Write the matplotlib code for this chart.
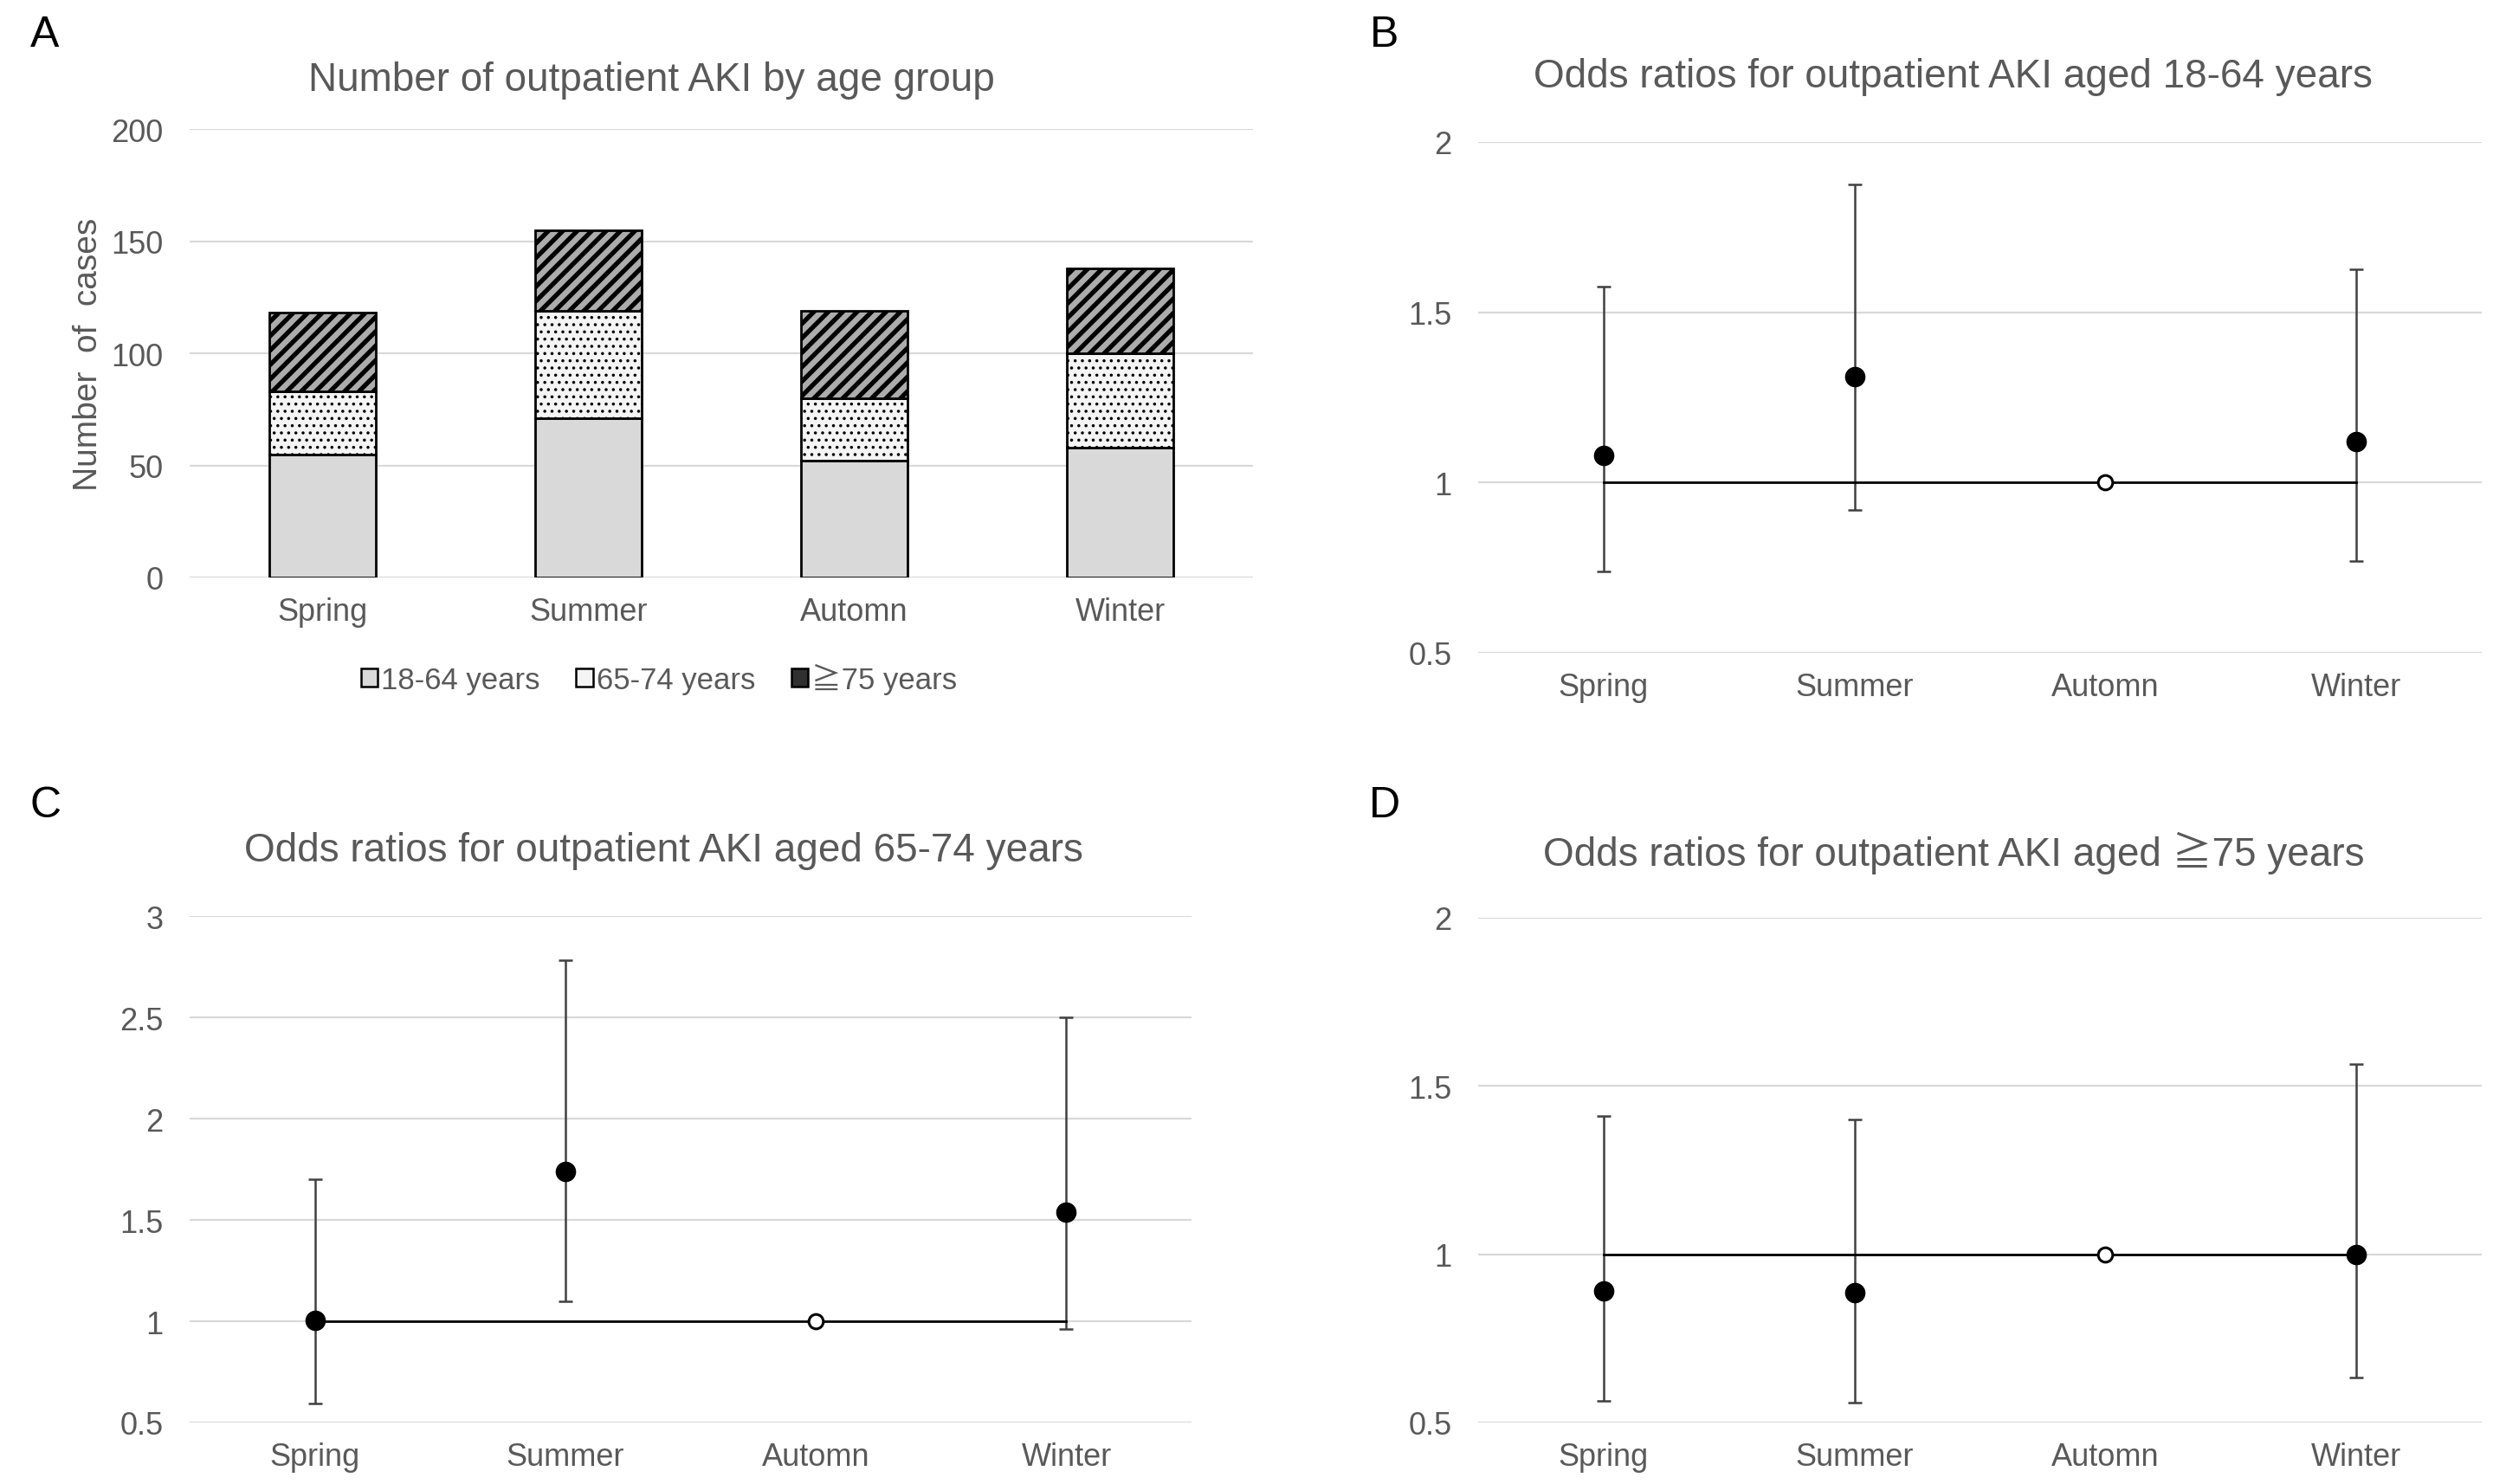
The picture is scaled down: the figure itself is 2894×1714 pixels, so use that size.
import numpy as np
import matplotlib
matplotlib.use('Agg')
import matplotlib.pyplot as plt
from matplotlib.patches import Patch

plt.rcParams['font.family'] = ['Liberation Sans', 'Noto Sans CJK JP', 'DejaVu Sans']

# data
seasons = ['Spring', 'Summer', 'Automn', 'Winter']
cases_18_64 = [55, 71, 52, 58]
cases_65_74 = [28, 48, 28, 42]
cases_75 = [35, 36, 39, 38]
age_labels = ['18-64 years', '65-74 years', '≧75 years']

# odds ratios with 95% CI (Automn = reference)
or_18_64 = [1.08, 1.31, 1.00, 1.12]
lo_18_64 = [0.74, 0.92, np.nan, 0.77]
hi_18_64 = [1.575, 1.875, np.nan, 1.625]

or_65_74 = [1.005, 1.74, 1.00, 1.54]
lo_65_74 = [0.595, 1.10, np.nan, 0.96]
hi_65_74 = [1.70, 2.78, np.nan, 2.50]

or_75 = [0.89, 0.885, 1.00, 1.00]
lo_75 = [0.565, 0.56, np.nan, 0.635]
hi_75 = [1.41, 1.40, np.nan, 1.565]

ref_line = [1.0, 1.0, 1.0, 1.0]
ref_season = 'Automn'

gray_txt = '#595959'
grid_col = '#d9d9d9'

fig = plt.figure(figsize=(28.94, 17.15), dpi=100)


def style_axes(ax, ylim, yticks):
    ax.set_xlim(-0.5, len(seasons) - 0.5)
    ax.set_ylim(*ylim)
    ax.set_yticks(yticks)
    ax.set_yticklabels(['{:g}'.format(t) for t in yticks])
    ax.set_xticks(range(len(seasons)))
    ax.set_xticklabels(seasons)
    for s in ax.spines.values():
        s.set_visible(False)
    ax.tick_params(axis='both', length=0, labelsize=26, labelcolor=gray_txt)
    ax.tick_params(axis='y', pad=22)
    ax.tick_params(axis='x', pad=16)
    ax.yaxis.grid(True, color=grid_col, lw=1.6)
    ax.set_axisbelow(True)


# ---- A: stacked bars
axA = fig.add_axes([0.0757, 0.6105, 0.4243, 0.302])
x = np.arange(len(seasons))
w = 0.4
bot2 = np.array(cases_18_64)
bot3 = bot2 + np.array(cases_65_74)
with plt.rc_context({'hatch.linewidth': 1.3}):
    axA.bar(x, cases_18_64, w, color='#d9d9d9', edgecolor='black', lw=2.0, zorder=3)
    axA.bar(x, cases_65_74, w, bottom=bot2, color='#f4f4f4', edgecolor='black',
            lw=2.0, hatch='..', zorder=3)
with plt.rc_context({'hatch.linewidth': 3.8}):
    axA.bar(x, cases_75, w, bottom=bot3, color='#acacac', edgecolor='black',
            lw=2.0, hatch='//', zorder=3)
style_axes(axA, (0, 200), [0, 50, 100, 150, 200])
axA.set_ylabel('Number  of  cases', fontsize=28, color=gray_txt, labelpad=6)

handles = [Patch(facecolor='#d9d9d9', edgecolor='black', lw=1.8),
           Patch(facecolor='#f4f4f4', edgecolor='black', lw=1.8),
           Patch(facecolor='#303030', edgecolor='black', lw=1.8)]
leg = fig.legend(handles, age_labels, loc='center', bbox_to_anchor=(0.263, 0.5423),
                 ncol=3, frameon=False, fontsize=25, handlelength=0.55, handleheight=0.55,
                 handletextpad=0.12, columnspacing=1.2)
for t in leg.get_texts():
    t.set_color(gray_txt)


# ---- B, C, D: odds ratio plots
def or_panel(rect, ors, lo, hi, ylim, yticks):
    ax = fig.add_axes(rect)
    ors = np.array(ors)
    lo = np.array(lo)
    hi = np.array(hi)
    ok = ~np.isnan(lo)
    xs = np.arange(len(seasons))
    ax.errorbar(xs[ok], ors[ok], yerr=[ors[ok] - lo[ok], hi[ok] - ors[ok]], fmt='none',
                ecolor='#404040', elinewidth=1.8, capsize=6, capthick=1.8, zorder=3)
    ax.plot(xs, ref_line, color='black', lw=2, zorder=4)
    ax.plot(xs[ok], ors[ok], 'o', color='black', ms=16, zorder=5)
    ri = seasons.index(ref_season)
    ax.plot(xs[ri], ors[ri], 'o', mfc='white', mec='black', mew=2.2, ms=12, zorder=5)
    style_axes(ax, ylim, yticks)
    return ax


or_panel([0.5898, 0.5598, 0.4005, 0.344], or_18_64, lo_18_64, hi_18_64,
         (0.5, 2), [0.5, 1, 1.5, 2])
or_panel([0.0757, 0.0414, 0.3998, 0.3411], or_65_74, lo_65_74, hi_65_74,
         (0.5, 3), [0.5, 1, 1.5, 2, 2.5, 3])
or_panel([0.5898, 0.0414, 0.4005, 0.340], or_75, lo_75, hi_75,
         (0.5, 2), [0.5, 1, 1.5, 2])

# titles and panel letters
titles = [('Number of outpatient AKI by age group', 0.260, 0.946),
          ('Odds ratios for outpatient AKI aged 18-64 years', 0.7795, 0.948),
          ('Odds ratios for outpatient AKI aged 65-74 years', 0.265, 0.4268),
          ('Odds ratios for outpatient AKI aged ≧75 years', 0.7795, 0.4257)]
for txt, tx, ty in titles:
    fig.text(tx, ty, txt, ha='center', va='center', fontsize=33, color=gray_txt)

for lab, lx, ly in [('A', 0.018, 0.976), ('B', 0.5525, 0.976),
                    ('C', 0.018, 0.457), ('D', 0.5525, 0.457)]:
    fig.text(lx, ly, lab, ha='center', va='center', fontsize=36, color='black')

fig.savefig('out.png', dpi=100)
